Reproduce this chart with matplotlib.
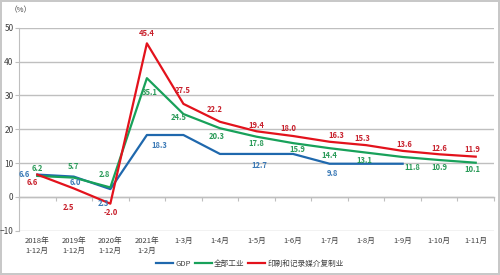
import numpy as np
import matplotlib
matplotlib.use('Agg')
from matplotlib import pyplot as plt

plt.rcParams['font.family'] = ['Noto Sans CJK SC', 'DejaVu Sans']

categories = ['2018年\n1-12月', '2019年\n1-12月', '2020年\n1-12月', '2021年\n1-2月',
              '1-3月', '1-4月', '1-5月', '1-6月', '1-7月', '1-8月', '1-9月', '1-10月', '1-11月']
gdp = [6.6, 6.0, 2.3, 18.3, 18.3, 12.7, 12.7, 12.7, 9.8, 9.8, 9.8, np.nan, np.nan]
industry = [6.2, 5.7, 2.8, 35.1, 24.5, 20.3, 17.8, 15.9, 14.4, 13.1, 11.8, 10.9, 10.1]
printing = [6.6, 2.5, -2.0, 45.4, 27.5, 22.2, 19.4, 18.0, 16.3, 15.3, 13.6, 12.6, 11.9]
# quarterly GDP labels: (position, value)
gdp_label_pos = [0, 1, 2, 3.35, 6, 8]
gdp_label_val = [6.6, 6.0, 2.3, 18.3, 12.7, 9.8]

c_blue = '#1f68ad'
c_green = '#18a15a'
c_red = '#e3121c'
t_blue = '#3a79b6'
t_green = '#2a9a58'
t_red = '#c8202c'
grid_c = '#bfbfbf'

fig = plt.figure(figsize=(5, 2.75), dpi=100)
fig.patch.set_edgecolor('#c8c8c8')
fig.patch.set_linewidth(1.5)
ax = fig.add_axes([0.038, 0.161, 0.95, 0.738])

x = np.arange(len(categories))
ax.plot(x, gdp, color=c_blue, lw=1.6, zorder=3, label='GDP')
ax.plot(x, industry, color=c_green, lw=1.6, zorder=4, label='全部工业')
ax.plot(x, printing, color=c_red, lw=1.6, zorder=5, label='印刷和记录媒介复制业')

ax.set_xlim(-0.5, len(categories) - 0.5)
ax.set_ylim(-10, 50)
ax.set_yticks(range(-10, 51, 10))
ax.yaxis.grid(True, color=grid_c, lw=1)
ax.set_axisbelow(True)
for s in ['top', 'right']:
    ax.spines[s].set_visible(False)
ax.spines['left'].set_color(grid_c)
ax.spines['bottom'].set_position(('data', 0))
ax.spines['bottom'].set_color(grid_c)
ax.spines['bottom'].set_linewidth(1)

# boundary ticks on zero line, labels at the bottom
ax.set_xticks(np.arange(-0.5, len(categories), 1))
ax.set_xticklabels([])
ax.tick_params(axis='x', which='major', length=3, color=grid_c)
ax.set_xticks(x, minor=True)
ax.set_xticklabels(categories, minor=True, fontsize=5.5, color='#404040', linespacing=1.3)
ax.tick_params(axis='x', which='minor', length=0, pad=29)
ax.tick_params(axis='y', length=3, color=grid_c, labelsize=6, labelcolor='#404040', pad=1)

lab_kw = dict(textcoords='offset pixels', ha='center', va='center', fontsize=5.5,
              fontweight='bold', zorder=6)

green_off = [(0, 7), (0, 11), (-6, 13), (3, -14), (-5, -3), (-3, -8), (0, -7), (4, -6), (0, -7), (-2, -8), (10, -11), (0, -7), (-3, -7)]
for i, v in enumerate(industry):
    ax.annotate(f'{v:.1f}', (x[i], v), xytext=green_off[i], color=t_green, **lab_kw)

red_off = [(-5, -8), (-5, -19), (0, -9), (0, 10), (-1, 13), (-5, 12), (0, 6), (-5, 8), (7, 6), (-4, 7), (2, 6), (0, 6), (-3, 7)]
for i, v in enumerate(printing):
    ax.annotate(f'{v:.1f}', (x[i], v), xytext=red_off[i], color=t_red, **lab_kw)

blue_off = [(-13, 0), (2, -6), (-7, -14), (0, -10), (3, -12), (3, -10)]
for p, v, o in zip(gdp_label_pos, gdp_label_val, blue_off):
    ax.annotate(f'{v:.1f}', (p, v), xytext=o, color=t_blue, **lab_kw)

fig.text(0.02, 0.962, '（%）', fontsize=5.5, color='#404040', va='center')

fig.legend(loc='center', bbox_to_anchor=(0.5, 1 - 264 / 275), ncol=3, frameon=False,
           fontsize=5.5, handlelength=2.2, handletextpad=0.3, columnspacing=0.5, labelcolor='#404040')

fig.savefig('out.png', dpi=100, edgecolor=fig.get_edgecolor())
